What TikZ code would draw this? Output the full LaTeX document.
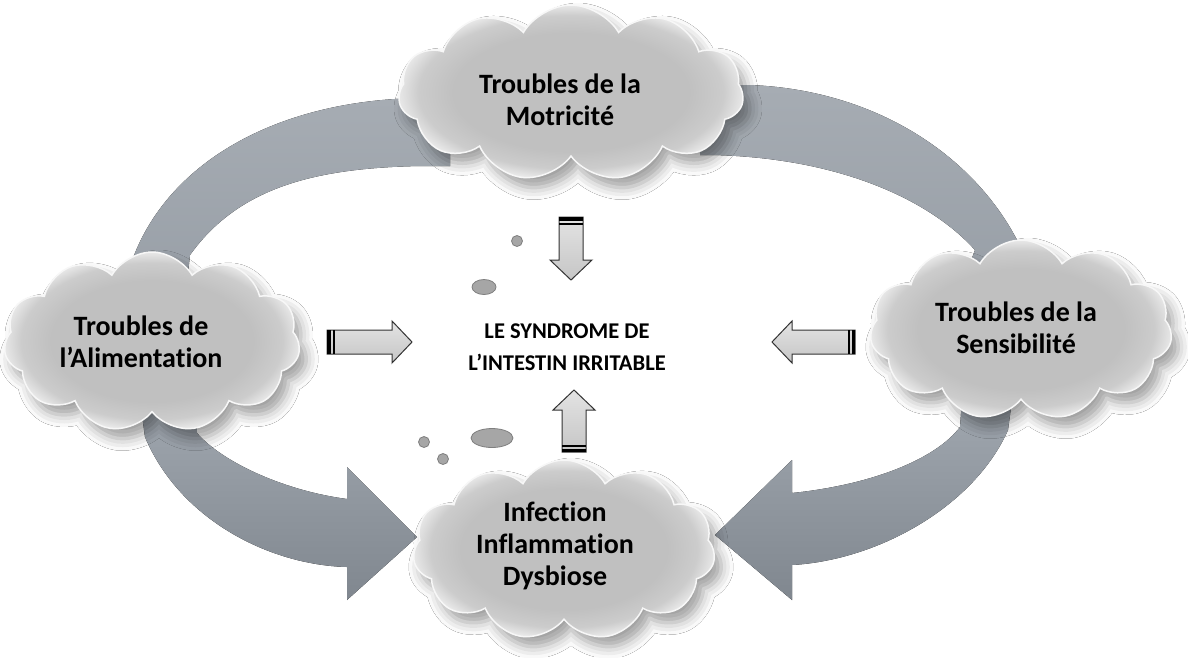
\documentclass[tikz,border=0pt]{standalone}
\usepackage{fontspec}
\setmainfont{Carlito}[Ligatures=NoCommon]
\usetikzlibrary{shapes.symbols,shadows.blur}
\definecolor{upA}{HTML}{A6ACB3}
\definecolor{upB}{HTML}{989FA7}
\definecolor{dnA}{HTML}{A0A7AF}
\definecolor{dnB}{HTML}{80878F}
\definecolor{cloudin}{HTML}{C0C0C0}
\definecolor{cloudmid}{HTML}{CCCCCC}
\definecolor{cloudout}{HTML}{F2F2F2}
\definecolor{bubfill}{HTML}{A6A6A6}
\definecolor{bubdraw}{HTML}{7F7F7F}
\pgfdeclareradialshading{cloudshade}{\pgfpoint{0bp}{0bp}}{color(0bp)=(cloudin); color(17bp)=(cloudin); color(22bp)=(cloudmid); color(26bp)=(cloudout); color(50bp)=(cloudout)}
\newcommand\blockarr[3]{%
  \begin{scope}[shift={(#1)},rotate=#2]
    \draw[smallarrow] (0,-12) -- ({#3-20},-12) -- ({#3-20},-21) -- (#3,0) -- ({#3-20},21) -- ({#3-20},12) -- (0,12) -- cycle;
    \fill[black] (0,-12) rectangle (3.5,12);
    \fill[black] (5.5,-12) rectangle (7.5,12);
  \end{scope}}
\begin{document}
\begin{tikzpicture}[x=1pt,y=-1pt,
  bigup/.style={top color=upA,bottom color=upB,draw=none},
  bigdown/.style={top color=dnA,bottom color=dnB,draw=none},
  cloudbox/.style={cloud,cloud puffs=11,cloud puff arc=120,cloud ignores aspect,
    minimum width=300pt,minimum height=178pt,inner sep=0pt,shading=cloudshade,
    draw=white!94!gray,line width=1.5pt,
    blur shadow={shadow xshift=7pt,shadow yshift=-10pt,shadow blur radius=12pt,shadow opacity=38}},
  cloudtext/.style={align=center,font=\fontsize{28}{32}\selectfont\bfseries,text=black},
  centertext/.style={align=center,font=\fontsize{22.5}{32}\selectfont\bfseries,text=black},
  smallarrow/.style={draw=black!80,line width=1pt,top color=gray!22,bottom color=gray!45},
  bubble/.style={fill=bubfill,draw=bubdraw,line width=0.8pt}]
\useasboundingbox[fill=white] (0,0) rectangle (1188,657);

% big curved arrows (behind the clouds)
\fill[bigup] (128,300) -- (133,258) .. controls (170,160) and (280,100) .. (420,98) -- (450,98) -- (450,166) -- (420,166) .. controls (320,168) and (240,185) .. (190,255) -- (185,300) -- cycle;
\fill[bigup] (700,85) -- (750,85) .. controls (880,90) and (980,160) .. (1022,250) -- (1035,290) -- (960,290) -- (975,250) .. controls (930,200) and (840,158) .. (713,155) -- (700,155) -- cycle;
\fill[bigdown] (140,400) -- (145,437) .. controls (180,520) and (270,565) .. (347,567) -- (347,600) -- (417,537) -- (347,467) -- (347,499) .. controls (280,490) and (220,460) .. (197,433) -- (195,400) -- cycle;
\fill[bigdown] (1012,400) -- (1008,430) .. controls (975,505) and (880,560) .. (792,565) -- (792,600) -- (715,535) -- (792,460) -- (792,493) .. controls (870,485) and (935,460) .. (960,427) -- (962,400) -- cycle;

% clouds
\node[cloudbox,minimum width=345pt,minimum height=176pt] (motri) at (571,93) {};
\node[cloudbox,minimum width=296pt,minimum height=180pt] (alim) at (152,342) {};
\node[cloudbox,minimum width=302pt,minimum height=180pt] (sensi) at (1021,330) {};
\node[cloudbox,minimum width=302pt,minimum height=180pt] (infect) at (564,550) {};

% cloud texts
\node[cloudtext] (motriT) at (560,100) {Troubles de la\\Motricité};
\node[cloudtext] (alimT) at (141,342) {Troubles de\\l’Alimentation};
\node[cloudtext] (sensiT) at (1016,328) {Troubles de la\\Sensibilité};
\node[cloudtext] (infectT) at (555,546) {Infection\\Inflammation\\Dysbiose};

% central text
\node[centertext] (ibs) at (567,347) {LE SYNDROME DE\\L’INTESTIN IRRITABLE};

% small block arrows towards the centre
\coordinate (dT) at (571,217);
\coordinate (rT) at (327,342);
\coordinate (lT) at (855,342);
\coordinate (uT) at (574,452);
\blockarr{dT}{-90}{63}
\blockarr{rT}{0}{85}
\blockarr{lT}{180}{83}
\blockarr{uT}{90}{62}

% bubbles
\draw[bubble] (517,241) circle[radius=5.5];
\draw[bubble] (484,287) ellipse[x radius=12,y radius=7.5];
\draw[bubble] (492,438) ellipse[x radius=21,y radius=9.5];
\draw[bubble] (424,442) circle[radius=5.5];
\draw[bubble] (443,459) circle[radius=5.5];
\end{tikzpicture}
\end{document}
